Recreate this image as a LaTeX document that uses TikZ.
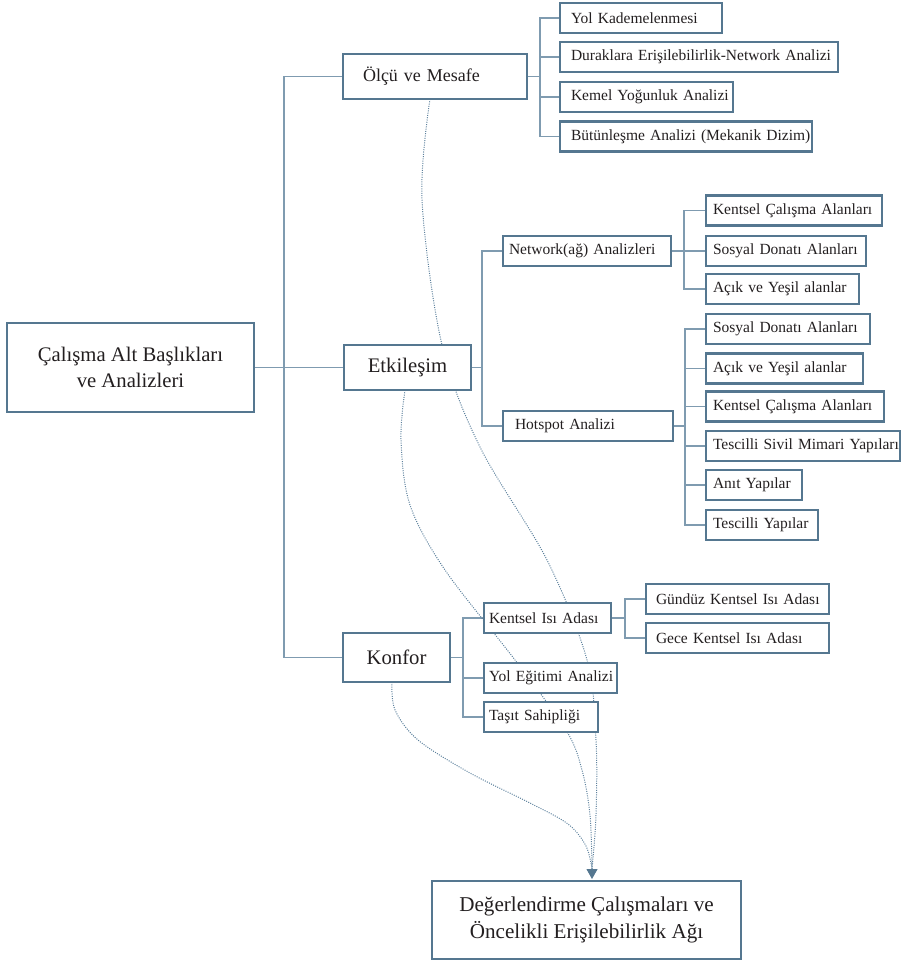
\documentclass[tikz,border=0pt]{standalone}
\usepackage{fontspec}
\setmainfont{Liberation Serif}
\usetikzlibrary{arrows.meta,backgrounds,calc}
\definecolor{boxc}{HTML}{557790}
\definecolor{linec}{HTML}{7F9BB0}
\definecolor{dotc}{HTML}{5C809C}
\definecolor{txtc}{HTML}{231F20}
\begin{document}
\begin{tikzpicture}[x=1pt,y=-1pt,
  box/.style={draw=boxc, line width=2.3pt, fill=white, text=txtc, inner sep=0pt, outer sep=0pt},
  big/.style={box, align=center, font=\fontsize{20.7}{26}\selectfont},
  leaf/.style 2 args={box, anchor=west, minimum height=30pt, text width=#1pt, inner xsep=#2pt, align=left, font=\fontsize{15.5}{18}\selectfont},
  conn/.style={draw=linec, line width=1.4pt},
  dots/.style={draw=dotc, line width=1pt, dash pattern=on 1pt off 1.3pt},
  tipc/.style={-{Triangle[length=10pt,width=11pt]}, boxc}
]
\useasboundingbox (0,0) rectangle (902,961);

% main nodes
\node[big, line width=2.8pt, minimum width=247pt, minimum height=89pt] (root) at (130.5,367.5) {Çalışma Alt Başlıkları\\ve Analizleri};
\node[leaf={144}{20}, minimum height=45pt, font=\fontsize{18}{22}\selectfont] (olcu) at (343,76.5) {\mbox{Ölçü ve Mesafe}};
\node[big, minimum width=127pt, minimum height=45pt] (etk) at (407.5,367.5) {Etkileşim};
\node[big, minimum width=107pt, minimum height=49pt] (konf) at (396.5,657.5) {Konfor};
\node[big, line width=2.8pt, minimum width=309pt, minimum height=78pt, font=\fontsize{21.1}{27}\selectfont] (final) at (586.5,920) {Değerlendirme Çalışmaları ve\\Öncelikli Erişilebilirlik Ağı};

% Ölçü ve Mesafe children
\node[leaf={140}{11}] (yol) at (560,18) {\mbox{Yol Kademelenmesi}};
\node[leaf={256}{11}] (dur) at (560,57) {\mbox{Duraklara Erişilebilirlik-Network Analizi}};
\node[leaf={151}{11}] (kem) at (560,97) {\mbox{Kemel Yoğunluk Analizi}};
\node[leaf={230}{11}] (but) at (560,136.5) {\mbox{Bütünleşme Analizi (Mekanik Dizim)}};

% Etkileşim children
\node[leaf={156}{6}] (net) at (503,251) {\mbox{Network(ağ) Analizleri}};
\node[leaf={146}{12}] (hot) at (503,426) {\mbox{Hotspot Analizi}};

\node[leaf={162}{7}] (k1) at (706,210.5) {\mbox{Kentsel Çalışma Alanları}};
\node[leaf={146}{7}] (s1) at (706,251) {\mbox{Sosyal Donatı Alanları}};
\node[leaf={139}{7}] (a1) at (706,289) {\mbox{Açık ve Yeşil alanlar}};

\node[leaf={150}{7}] (s2) at (706,329) {\mbox{Sosyal Donatı Alanları}};
\node[leaf={143}{7}] (a2) at (706,368.5) {\mbox{Açık ve Yeşil alanlar}};
\node[leaf={164}{7}] (k2) at (706,406.5) {\mbox{Kentsel Çalışma Alanları}};
\node[leaf={180}{7}] (t1) at (706,446) {\mbox{Tescilli Sivil Mimari Yapıları}};
\node[leaf={82}{7}] (an) at (706,485) {\mbox{Anıt Yapılar}};
\node[leaf={98}{7}] (t2) at (706,525) {\mbox{Tescilli Yapılar}};

% Konfor children
\node[leaf={117}{5}] (isi) at (484,618) {\mbox{Kentsel Isı Adası}};
\node[leaf={123}{5}] (yeg) at (484,678) {\mbox{Yol Eğitimi Analizi}};
\node[leaf={104}{5}] (tas) at (484,717) {\mbox{Taşıt Sahipliği}};
\node[leaf={163}{10}] (gun) at (646,599) {\mbox{Gündüz Kentsel Isı Adası}};
\node[leaf={163}{10}] (gec) at (646,638) {\mbox{Gece Kentsel Isı Adası}};

\begin{pgfonlayer}{background}
% tree connectors
\draw[conn] (olcu.west) -- ++(-59,0) |- (konf.west);
\draw[conn] (root.east) -- (etk.west);

\draw[conn] (olcu.east) -- ++(13,0);
\draw[conn] (yol.west) -- ++(-20,0) |- (but.west);
\draw[conn] (dur.west) -- ++(-20,0);
\draw[conn] (kem.west) -- ++(-20,0);

\draw[conn] (etk.east) -- ++(11,0);
\draw[conn] (net.west) -- ++(-21,0) |- (hot.west);

\draw[conn] (net.east) -- ++(13,0);
\draw[conn] (k1.west) -- ++(-22,0) |- (a1.west);
\draw[conn] (s1.west) -- ++(-22,0);

\draw[conn] (hot.east) -- ++(12,0);
\draw[conn] (s2.west) -- ++(-21,0) |- (t2.west);
\draw[conn] (a2.west) -- ++(-21,0);
\draw[conn] (k2.west) -- ++(-21,0);
\draw[conn] (t1.west) -- ++(-21,0);
\draw[conn] (an.west) -- ++(-21,0);

\draw[conn] (konf.east) -- ++(13,0);
\draw[conn] (isi.west) -- ++(-21,0) |- (tas.west);
\draw[conn] (yeg.west) -- ++(-21,0);

\draw[conn] (isi.east) -- ++(14,0);
\draw[conn] (gun.west) -- ++(-21,0) |- (gec.west);

% dotted flows
\coordinate (tip) at ($(final.north)+(5.5,-2)$);
\coordinate (conv) at ($(tip)+(0,-10)$);
\coordinate (a0) at ($(olcu.south)+(-5,0)$);
\coordinate (b0) at ($(etk.south)+(-2.5,0)$);
\coordinate (c0) at ($(konf.south)+(-4.5,0)$);

\draw[dots] plot[smooth, tension=0.55] coordinates {(a0) (422,200) (442,345) (480,447) (547,560) (587,660) (596,740) (596,815) (conv)};
\draw[dots] plot[smooth, tension=0.55] coordinates {(b0) (401,440) (410,505) (445,570) (515,660) (566,730) (582,770) (590,815) (conv)};
\draw[dots] plot[smooth, tension=0.55] coordinates {(c0) (395,710) (418,740) (470,773) (530,803) (568,824) (586,846) (conv)};
\draw[tipc, line width=1pt] (conv) -- (tip);
\end{pgfonlayer}
\end{tikzpicture}
\end{document}
